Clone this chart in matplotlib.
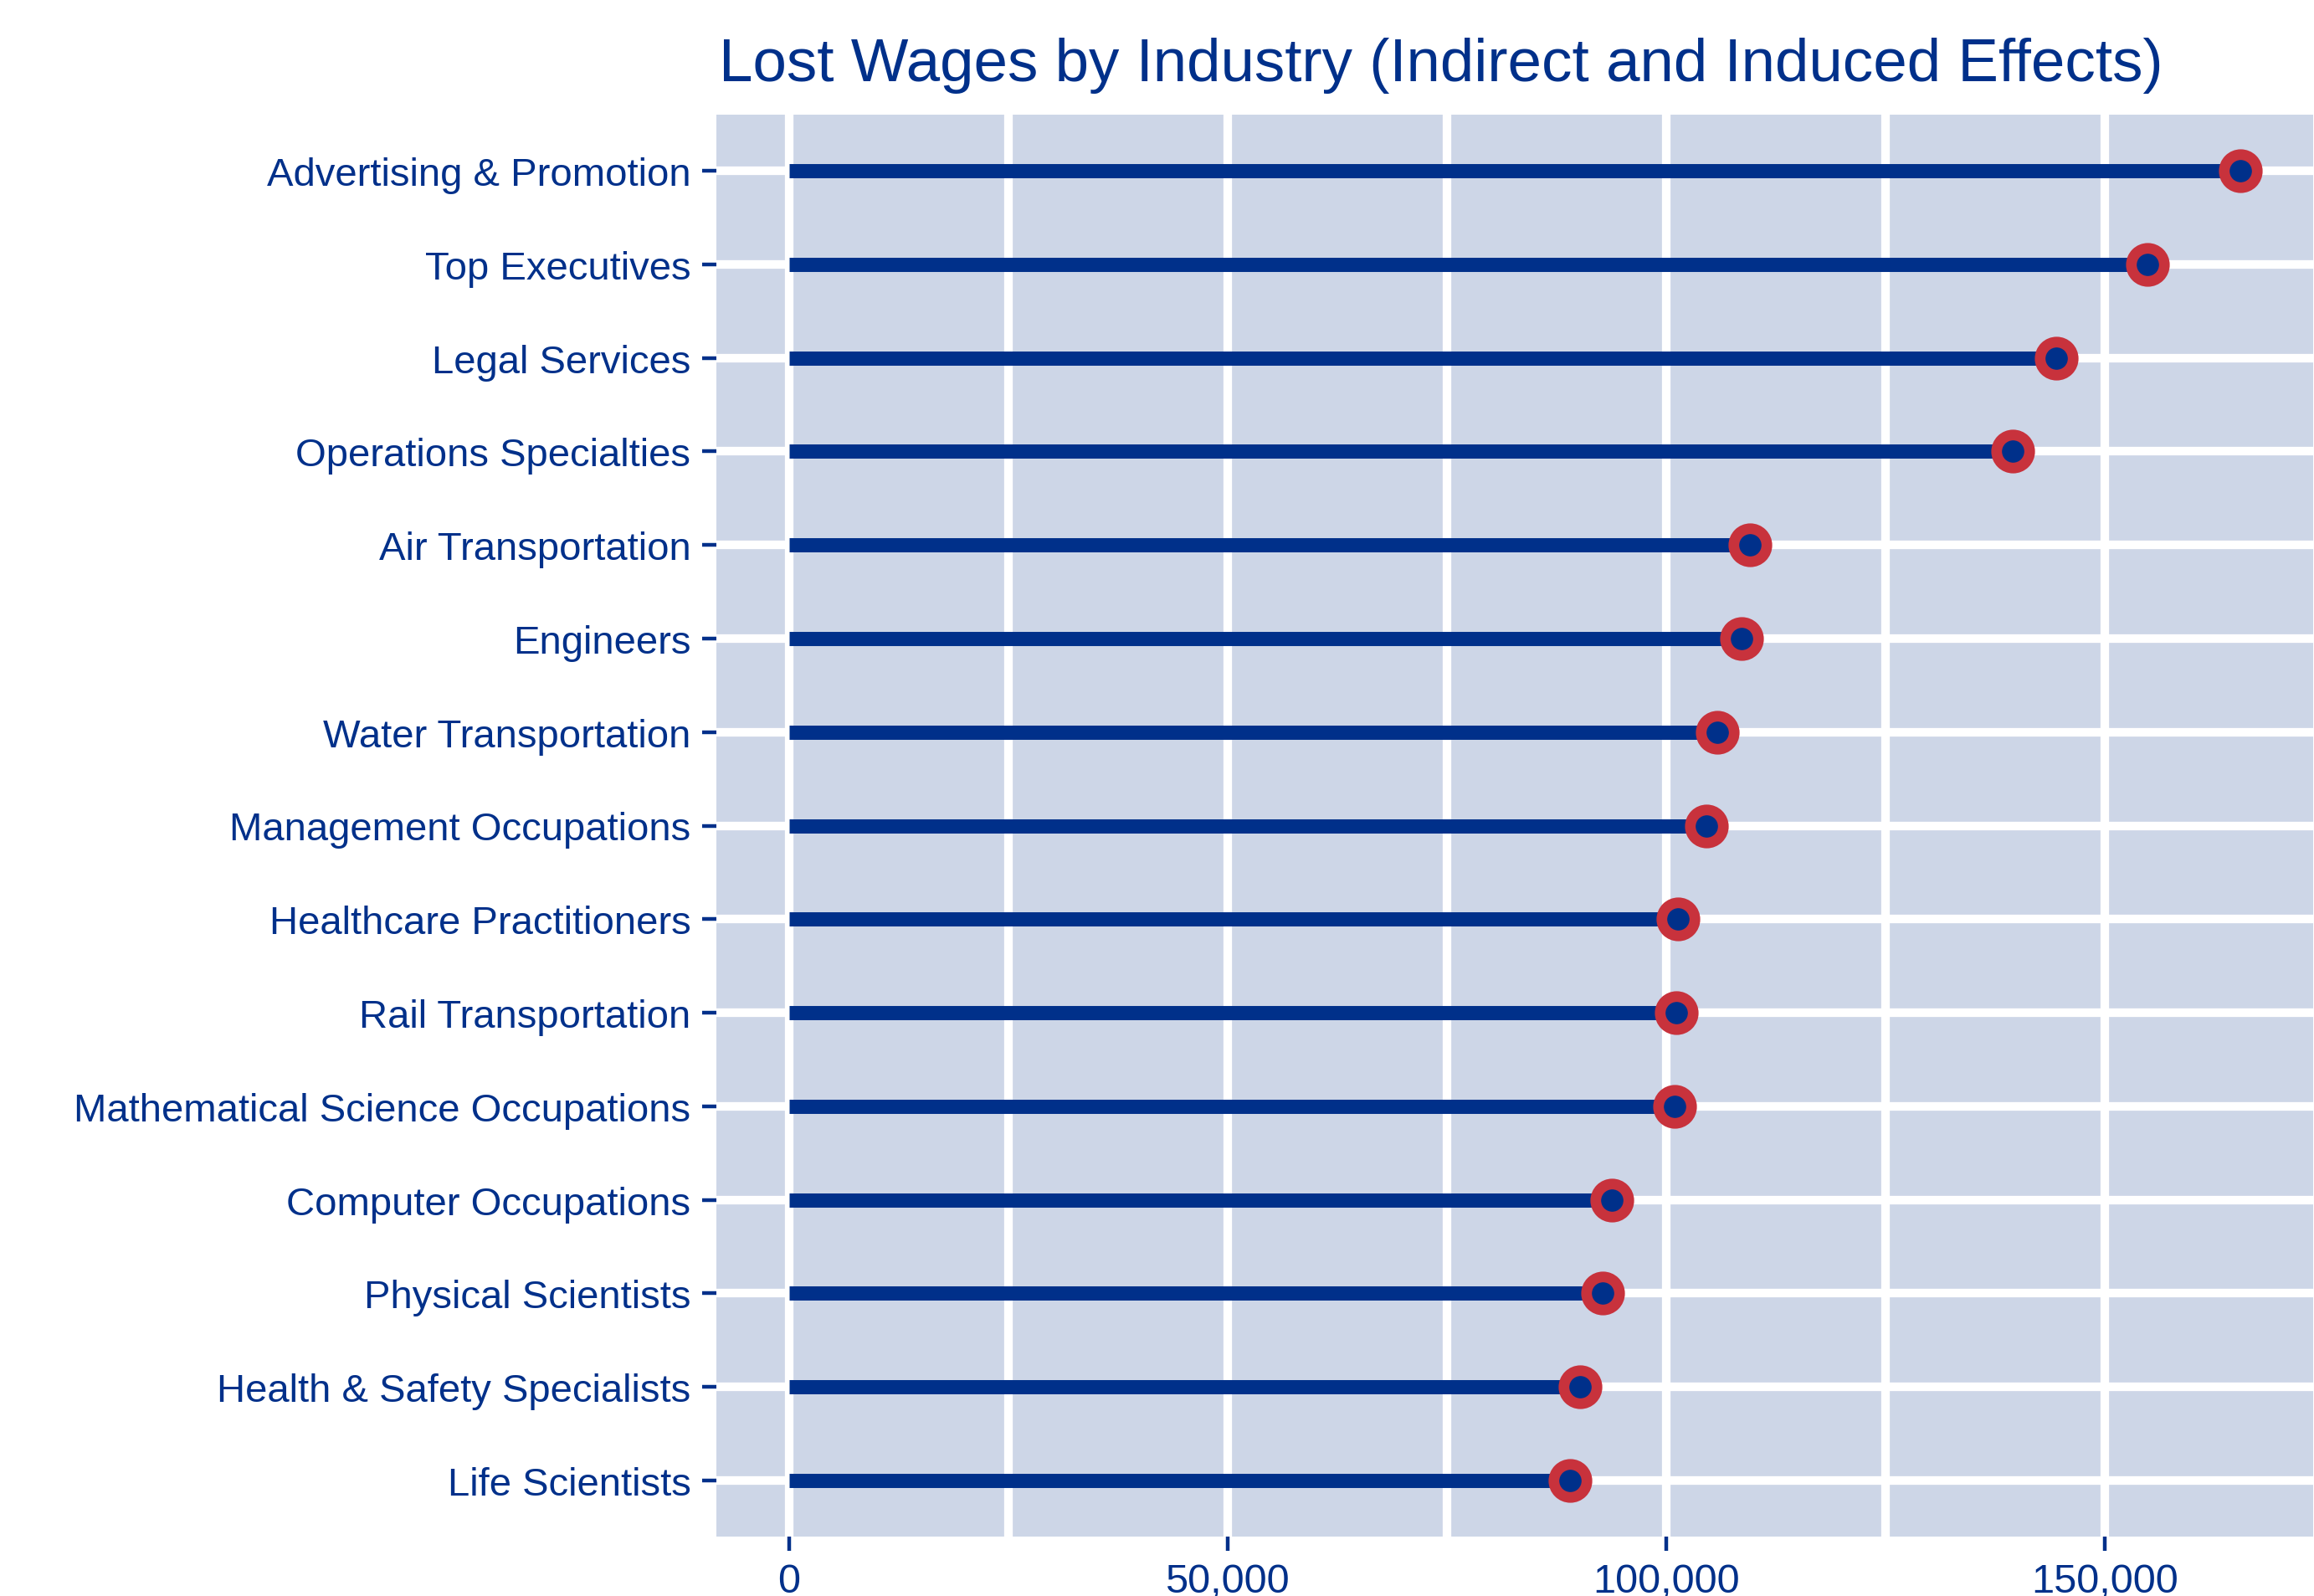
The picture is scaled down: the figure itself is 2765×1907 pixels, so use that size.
import matplotlib
matplotlib.use("Agg")
import matplotlib.pyplot as plt
from matplotlib.ticker import FuncFormatter, MultipleLocator

categories = [
    "Advertising & Promotion", "Top Executives", "Legal Services",
    "Operations Specialties", "Air Transportation", "Engineers",
    "Water Transportation", "Management Occupations",
    "Healthcare Practitioners", "Rail Transportation",
    "Mathematical Science Occupations", "Computer Occupations",
    "Physical Scientists", "Health & Safety Specialists", "Life Scientists",
]
wages = [165500, 154900, 144500, 139500, 109600, 108600, 105800, 104600,
         101400, 101200, 100950, 93800, 92800, 90200, 89000]

title = "Lost Wages by Industry (Indirect and Induced Effects)"
xticks = [0, 50000, 100000, 150000]

navy = "#00308A"
red = "#C8323C"
panel = "#CDD6E7"

plt.rcParams['font.family'] = ['Liberation Sans', 'DejaVu Sans']

W, H, DPI = 2765, 1908, 200
fig = plt.figure(figsize=(W / DPI, H / DPI), dpi=DPI)
ax = fig.add_axes([856 / W, 1 - 1837 / H, (2764 - 856) / W, (1837 - 138) / H])
ax.set_facecolor(panel)
for s in ax.spines.values():
    s.set_visible(False)

n = len(categories)
ypos = list(range(n - 1, -1, -1))

xmax = max(wages)
pad = 0.05 * xmax
ax.set_xlim(-pad, xmax + pad)
ax.set_ylim(-0.6, n - 1 + 0.6)

ax.xaxis.set_minor_locator(MultipleLocator(25000))
ax.set_xticks(xticks)
ax.xaxis.set_major_formatter(FuncFormatter(lambda v, p: f"{int(v):,}"))
ax.set_yticks(ypos)
ax.set_yticklabels(categories)

ax.grid(True, which='major', axis='both', color='white', linewidth=3.7)
ax.grid(True, which='minor', axis='x', color='white', linewidth=3.7)
ax.set_axisbelow(True)

ax.tick_params(axis='both', which='major', colors=navy, labelcolor=navy,
               length=6, width=1.6, pad=5)
ax.tick_params(axis='y', which='major', labelsize=17)
ax.tick_params(axis='x', which='major', labelsize=17.5)
ax.tick_params(axis='x', which='minor', length=0)

ax.hlines(ypos, 0, wages, color=navy, linewidth=6.1, capstyle='butt', zorder=3)
ax.plot(wages, ypos, linestyle='none', marker='o', markersize=14.2,
        markerfacecolor=navy, markeredgecolor=red, markeredgewidth=4.6, zorder=4)

fig.text(859 / W, 1 - 97 / H, title, color=navy, fontsize=26.2,
         ha='left', va='baseline')

fig.savefig("out.png", dpi=DPI)
